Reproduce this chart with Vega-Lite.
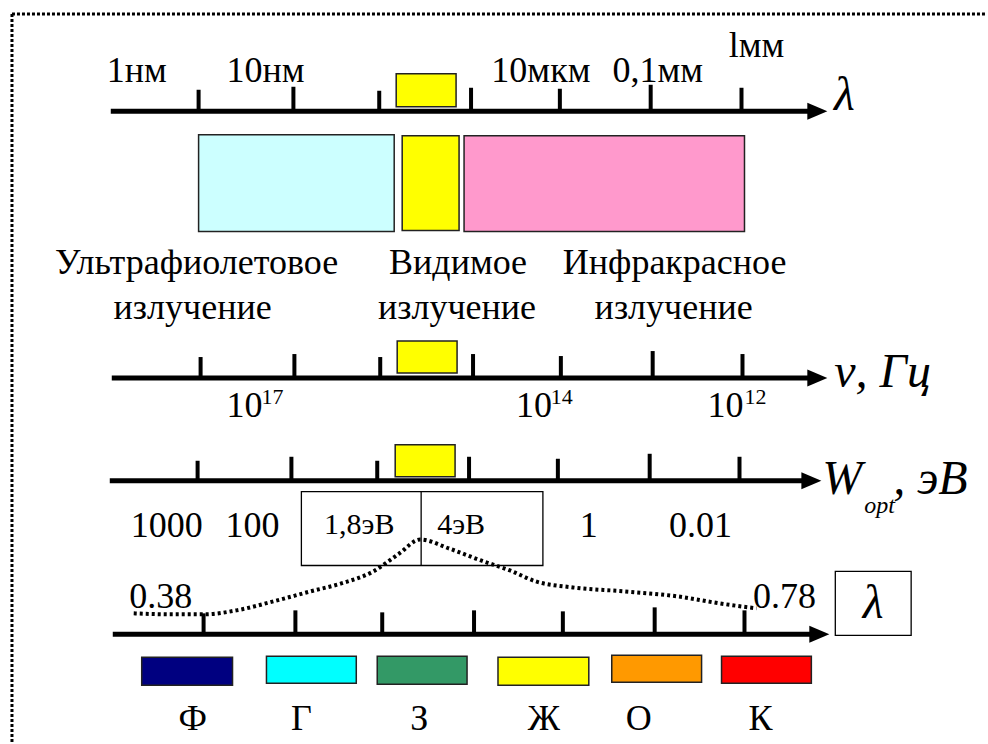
{
  "$schema": "https://vega.github.io/schema/vega-lite/v6.json",
  "width": 988,
  "height": 744,
  "autosize": {"type": "fit", "contains": "padding"},
  "padding": 0,
  "background": "white",
  "config": {"view": {"stroke": null}, "font": "'Liberation Serif', serif", "text": {"font": "'Liberation Serif', serif"}},
  "datasets": {
    "border": [
      {"x": 12, "x2": 988, "y": 14, "y2": 14},
      {"x": 12, "x2": 12, "y": 14, "y2": 744}
    ],
    "axes": [
      {"axis": "lambda", "x": 111, "x2": 812, "y": 111.5},
      {"axis": "nu", "x": 112, "x2": 812, "y": 379},
      {"axis": "W", "x": 110, "x2": 806, "y": 482},
      {"axis": "vis", "x": 113, "x2": 814, "y": 636}
    ],
    "arrows": [
      {"axis": "lambda", "x": 819, "y": 111.5},
      {"axis": "nu", "x": 819, "y": 379},
      {"axis": "W", "x": 813, "y": 482},
      {"axis": "vis", "x": 821, "y": 636}
    ],
    "ticks": [
      {"x": 199, "y": 90, "y2": 111}, {"x": 294, "y": 87, "y2": 111}, {"x": 380, "y": 91, "y2": 111},
      {"x": 472, "y": 88, "y2": 111}, {"x": 561, "y": 89, "y2": 111}, {"x": 652, "y": 85, "y2": 111},
      {"x": 743, "y": 88, "y2": 111},
      {"x": 201, "y": 358, "y2": 379}, {"x": 295, "y": 355, "y2": 379}, {"x": 381, "y": 358, "y2": 379},
      {"x": 474, "y": 355, "y2": 379}, {"x": 562, "y": 357, "y2": 379}, {"x": 654, "y": 352, "y2": 379},
      {"x": 744, "y": 355, "y2": 379},
      {"x": 198, "y": 462, "y2": 482}, {"x": 292, "y": 458, "y2": 482}, {"x": 378, "y": 462, "y2": 482},
      {"x": 470, "y": 458, "y2": 482}, {"x": 559, "y": 460, "y2": 482}, {"x": 651, "y": 455, "y2": 482},
      {"x": 741, "y": 458, "y2": 482},
      {"x": 204, "y": 615, "y2": 636}, {"x": 296, "y": 612, "y2": 636}, {"x": 383, "y": 614, "y2": 636},
      {"x": 475, "y": 612, "y2": 636}, {"x": 564, "y": 613, "y2": 636}, {"x": 656, "y": 609, "y2": 636},
      {"x": 746, "y": 612, "y2": 636}
    ],
    "boxes": [
      {"kind": "yellow", "x": 397, "x2": 457, "y": 74, "y2": 107},
      {"kind": "yellow", "x": 398, "x2": 458, "y": 342, "y2": 374},
      {"kind": "yellow", "x": 396, "x2": 456, "y": 446, "y2": 478},
      {"kind": "uv", "x": 199, "x2": 395, "y": 135, "y2": 232},
      {"kind": "yellow", "x": 403, "x2": 460, "y": 136, "y2": 231},
      {"kind": "ir", "x": 465, "x2": 746, "y": 136, "y2": 232},
      {"kind": "Ф", "x": 142, "x2": 233, "y": 659, "y2": 687},
      {"kind": "Г", "x": 267, "x2": 357, "y": 658, "y2": 685},
      {"kind": "З", "x": 378, "x2": 468, "y": 658, "y2": 686},
      {"kind": "Ж", "x": 499, "x2": 590, "y": 659, "y2": 687},
      {"kind": "О", "x": 613, "x2": 703, "y": 657, "y2": 684},
      {"kind": "К", "x": 723, "x2": 813, "y": 658, "y2": 685}
    ],
    "frames": [
      {"x": 302, "x2": 544, "y": 493, "y2": 567},
      {"x": 837, "x2": 913, "y": 573, "y2": 637}
    ],
    "divider": [{"x": 422, "y": 493, "y2": 567}],
    "curve": [
      {"x": 134, "y": 615}, {"x": 170, "y": 616}, {"x": 205, "y": 616}, {"x": 237, "y": 612},
      {"x": 274, "y": 603}, {"x": 311, "y": 593}, {"x": 342, "y": 585}, {"x": 374, "y": 573},
      {"x": 400, "y": 555}, {"x": 421, "y": 541}, {"x": 450, "y": 550}, {"x": 482, "y": 562},
      {"x": 511, "y": 572}, {"x": 537, "y": 583}, {"x": 574, "y": 589}, {"x": 626, "y": 593},
      {"x": 679, "y": 598}, {"x": 721, "y": 605}, {"x": 758, "y": 610}
    ],
    "labels": [
      {"t": "1нм", "x": 137, "y": 82}, {"t": "10нм", "x": 266, "y": 82},
      {"t": "10мкм", "x": 542, "y": 82}, {"t": "0,1мм", "x": 659, "y": 82},
      {"t": "lмм", "x": 758, "y": 57},
      {"t": "Ультрафиолетовое", "x": 197, "y": 275}, {"t": "излучение", "x": 193, "y": 320},
      {"t": "Видимое", "x": 459, "y": 275}, {"t": "излучение", "x": 458, "y": 320},
      {"t": "Инфракрасное", "x": 676, "y": 275}, {"t": "излучение", "x": 675, "y": 320},
      {"t": "10", "x": 245, "y": 418}, {"t": "10", "x": 535, "y": 418}, {"t": "10", "x": 727, "y": 418},
      {"t": "1000", "x": 167, "y": 538}, {"t": "100", "x": 253, "y": 538},
      {"t": "1", "x": 590, "y": 538}, {"t": "0.01", "x": 702, "y": 538},
      {"t": "0.38", "x": 161, "y": 610}, {"t": "0.78", "x": 786, "y": 610},
      {"t": "Ф", "x": 193, "y": 732}, {"t": "Г", "x": 302, "y": 732}, {"t": "З", "x": 420, "y": 732},
      {"t": "Ж", "x": 545, "y": 732}, {"t": "О", "x": 640, "y": 732}, {"t": "К", "x": 762, "y": 732}
    ],
    "exponents": [
      {"t": "17", "x": 273, "y": 405}, {"t": "14", "x": 563, "y": 405}, {"t": "12", "x": 757, "y": 405}
    ],
    "boxlabels": [
      {"t": "1,8эВ", "x": 360, "y": 535}, {"t": "4эВ", "x": 462, "y": 535}
    ],
    "symbols": [
      {"t": "λ", "x": 846, "y": 110}, {"t": "λ", "x": 875, "y": 620}
    ],
    "axisnames": [
      {"t": "ν, Гц", "x": 836, "y": 388}, {"t": "W", "x": 824, "y": 495}, {"t": ", эВ", "x": 895, "y": 495}
    ],
    "subscripts": [
      {"t": "opt", "x": 866, "y": 514}
    ]
  },
  "encoding": {
    "x": {"type": "quantitative", "scale": {"domain": [0, 988], "nice": false, "zero": false}, "axis": null},
    "y": {"type": "quantitative", "scale": {"domain": [0, 744], "nice": false, "zero": false, "reverse": true}, "axis": null}
  },
  "layer": [
    {
      "data": {"name": "border"},
      "mark": {"type": "rule", "stroke": "#000", "strokeWidth": 3, "strokeDash": [3, 2]},
      "encoding": {"x": {"field": "x", "type": "quantitative"}, "x2": {"field": "x2"}, "y": {"field": "y", "type": "quantitative"}, "y2": {"field": "y2"}}
    },
    {
      "data": {"name": "boxes"},
      "mark": {"type": "rect", "stroke": "#222", "strokeWidth": 1.5},
      "encoding": {
        "x": {"field": "x", "type": "quantitative"}, "x2": {"field": "x2"},
        "y": {"field": "y", "type": "quantitative"}, "y2": {"field": "y2"},
        "color": {"field": "kind", "type": "nominal", "legend": null,
          "scale": {"domain": ["yellow", "uv", "ir", "Ф", "Г", "З", "Ж", "О", "К"],
                    "range": ["#ffff00", "#ccffff", "#ff99cc", "#000080", "#00ffff", "#339966", "#ffff00", "#ff9900", "#ff0000"]}}
      }
    },
    {
      "data": {"name": "frames"},
      "mark": {"type": "rect", "fill": null, "fillOpacity": 0, "stroke": "#000", "strokeWidth": 1.3},
      "encoding": {"x": {"field": "x", "type": "quantitative"}, "x2": {"field": "x2"}, "y": {"field": "y", "type": "quantitative"}, "y2": {"field": "y2"}}
    },
    {
      "data": {"name": "divider"},
      "mark": {"type": "rule", "stroke": "#000", "strokeWidth": 1.3},
      "encoding": {"x": {"field": "x", "type": "quantitative"}, "y": {"field": "y", "type": "quantitative"}, "y2": {"field": "y2"}}
    },
    {
      "data": {"name": "axes"},
      "mark": {"type": "rule", "stroke": "#000", "strokeWidth": 5},
      "encoding": {"x": {"field": "x", "type": "quantitative"}, "x2": {"field": "x2"}, "y": {"field": "y", "type": "quantitative"}}
    },
    {
      "data": {"name": "ticks"},
      "mark": {"type": "rule", "stroke": "#000", "strokeWidth": 4},
      "encoding": {"x": {"field": "x", "type": "quantitative"}, "y": {"field": "y", "type": "quantitative"}, "y2": {"field": "y2"}}
    },
    {
      "data": {"name": "arrows"},
      "mark": {"type": "point", "shape": "M-1,-0.85L1,0L-1,0.85Z", "size": 400, "filled": true, "fill": "#000", "opacity": 1, "strokeWidth": 0},
      "encoding": {"x": {"field": "x", "type": "quantitative"}, "y": {"field": "y", "type": "quantitative"}}
    },
    {
      "data": {"name": "curve"},
      "mark": {"type": "line", "stroke": "#000", "strokeWidth": 4, "strokeDash": [3, 3], "interpolate": "monotone"},
      "encoding": {"x": {"field": "x", "type": "quantitative"}, "y": {"field": "y", "type": "quantitative"}}
    },
    {
      "data": {"name": "labels"},
      "mark": {"type": "text", "font": "'Liberation Serif', serif", "fontSize": 36, "align": "center", "baseline": "alphabetic", "fill": "#000"},
      "encoding": {"x": {"field": "x", "type": "quantitative"}, "y": {"field": "y", "type": "quantitative"}, "text": {"field": "t"}}
    },
    {
      "data": {"name": "exponents"},
      "mark": {"type": "text", "font": "'Liberation Serif', serif", "fontSize": 22, "align": "center", "baseline": "alphabetic", "fill": "#000"},
      "encoding": {"x": {"field": "x", "type": "quantitative"}, "y": {"field": "y", "type": "quantitative"}, "text": {"field": "t"}}
    },
    {
      "data": {"name": "boxlabels"},
      "mark": {"type": "text", "font": "'Liberation Serif', serif", "fontSize": 30, "align": "center", "baseline": "alphabetic", "fill": "#000"},
      "encoding": {"x": {"field": "x", "type": "quantitative"}, "y": {"field": "y", "type": "quantitative"}, "text": {"field": "t"}}
    },
    {
      "data": {"name": "symbols"},
      "mark": {"type": "text", "font": "'Liberation Serif', serif", "fontSize": 48, "fontStyle": "italic", "align": "center", "baseline": "alphabetic", "fill": "#000"},
      "encoding": {"x": {"field": "x", "type": "quantitative"}, "y": {"field": "y", "type": "quantitative"}, "text": {"field": "t"}}
    },
    {
      "data": {"name": "axisnames"},
      "mark": {"type": "text", "font": "'Liberation Serif', serif", "fontSize": 48, "fontStyle": "italic", "align": "left", "baseline": "alphabetic", "fill": "#000"},
      "encoding": {"x": {"field": "x", "type": "quantitative"}, "y": {"field": "y", "type": "quantitative"}, "text": {"field": "t"}}
    },
    {
      "data": {"name": "subscripts"},
      "mark": {"type": "text", "font": "'Liberation Serif', serif", "fontSize": 24, "fontStyle": "italic", "align": "left", "baseline": "alphabetic", "fill": "#000"},
      "encoding": {"x": {"field": "x", "type": "quantitative"}, "y": {"field": "y", "type": "quantitative"}, "text": {"field": "t"}}
    }
  ]
}
